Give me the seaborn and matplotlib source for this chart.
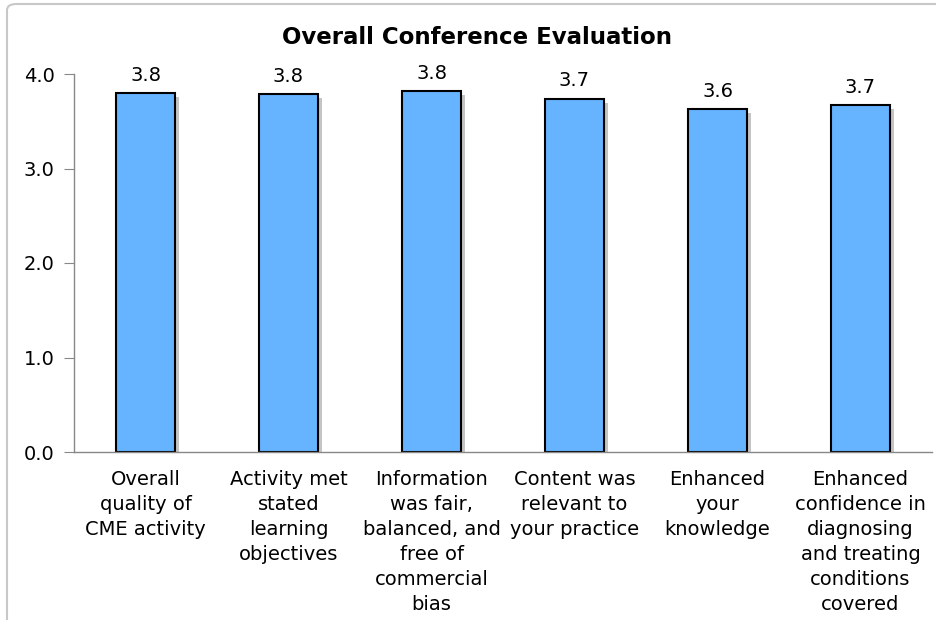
import numpy as np
import pandas as pd
import matplotlib
matplotlib.use("Agg")
import matplotlib.pyplot as plt
import matplotlib.patheffects as pe
from matplotlib.patches import FancyBboxPatch
import seaborn as sns

categorias = [
    "Overall\nquality of\nCME activity",
    "Activity met\nstated\nlearning\nobjectives",
    "Information\nwas fair,\nbalanced, and\nfree of\ncommercial\nbias",
    "Content was\nrelevant to\nyour practice",
    "Enhanced\nyour\nknowledge",
    "Enhanced\nconfidence in\ndiagnosing\nand treating\nconditions\ncovered",
]
puntajes = [3.80, 3.79, 3.82, 3.74, 3.63, 3.67]
marcas_y = [0.0, 1.0, 2.0, 3.0, 4.0]

sns.set_style("white")
plt.rcParams["font.family"] = ["DejaVu Sans"]
plt.rcParams["text.color"] = "black"
plt.rcParams["xtick.labelcolor"] = "black"
plt.rcParams["ytick.labelcolor"] = "black"

df = pd.DataFrame({"categoria": categorias, "puntaje": puntajes})

fig = plt.figure(figsize=(9.37, 6.2), dpi=100)
ax = fig.add_axes([74 / 937, 1 - 452 / 620, 858 / 937, 378 / 620])

# borde gris de la figura
borde = FancyBboxPatch((7 / 937, -0.05), 1.05, 1 - 4 / 620 + 0.05,
                       boxstyle="round,pad=0,rounding_size=0.01",
                       transform=fig.transFigure, facecolor="none",
                       edgecolor="#c8c8c8", linewidth=1.5, zorder=-1)
fig.patches.append(borde)

sns.barplot(data=df, x="categoria", y="puntaje", color="#66b3ff",
            saturation=1, width=0.41, edgecolor="black", linewidth=1.5, ax=ax)

for barra in ax.patches:
    barra.set_path_effects([pe.SimplePatchShadow(offset=(3, -3),
                                                 shadow_rgbFace="#c4c4c4", alpha=1),
                            pe.Normal()])

ax.bar_label(ax.containers[0], fmt="%.1f", padding=6, fontsize=14, color="black")

ax.set_ylim(0, 4)
ax.set_xlim(-0.5, 5.5)
ax.set_yticks(marcas_y)
ax.set_yticklabels([f"{v:.1f}" for v in marcas_y])
ax.set_xticks(np.arange(len(categorias)) + 0.5, minor=True)
ax.tick_params(axis="x", which="major", length=0, pad=13, labelsize=14)
ax.tick_params(axis="x", which="minor", length=7, color="#888888", direction="out")
ax.tick_params(axis="y", length=7, color="#888888", direction="out", pad=7,
               labelsize=14, left=True)
for lbl in ax.get_xticklabels():
    lbl.set_linespacing(1.4)

ax.set_xlabel("")
ax.set_ylabel("")
for lado in ["top", "right"]:
    ax.spines[lado].set_visible(False)
for lado in ["left", "bottom"]:
    ax.spines[lado].set_color("#888888")
    ax.spines[lado].set_linewidth(1)

fig.text(477 / 937, 1 - 37 / 620, "Overall Conference Evaluation",
         ha="center", va="center", fontsize=16.5, fontweight="bold", color="black")

fig.savefig("out.png", dpi=100)
